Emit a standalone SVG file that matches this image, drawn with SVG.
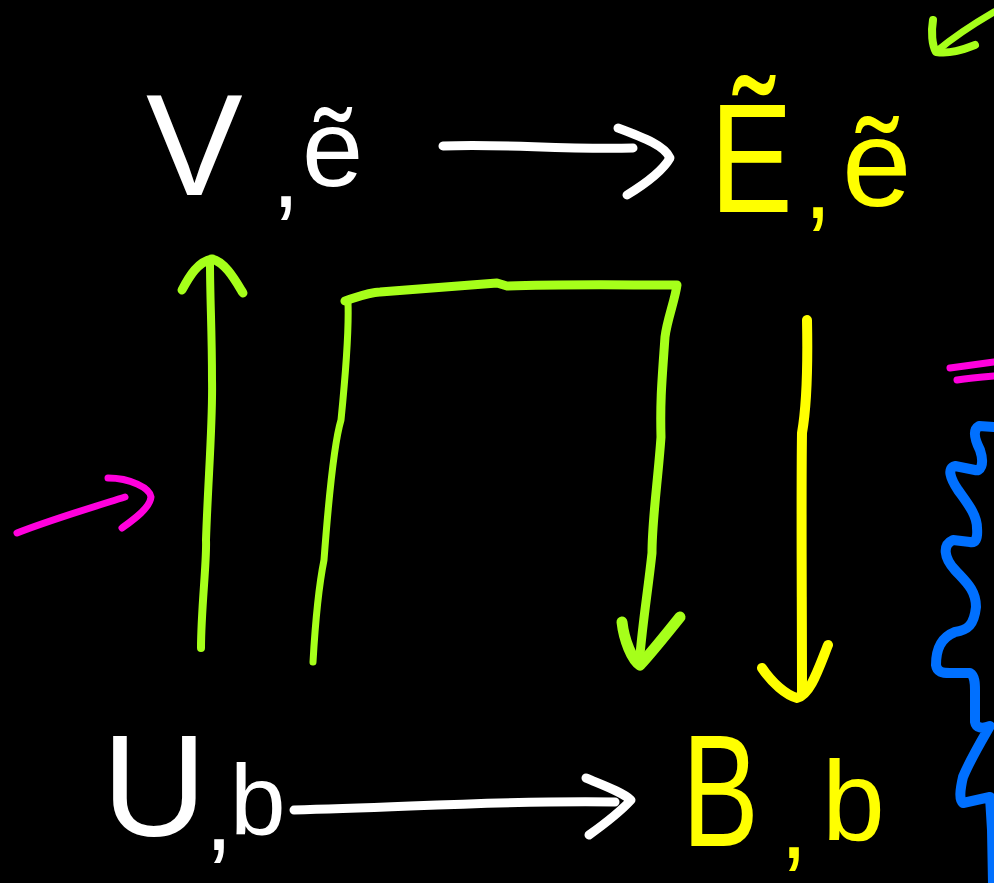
<svg xmlns="http://www.w3.org/2000/svg" width="994" height="883" viewBox="0 0 994 883">
<style>
.lbl{font-family:"Liberation Sans","DejaVu Sans",sans-serif;}
.w{fill:#ffffff;}
.y{fill:#ffff00;}
.s{fill:none;stroke-linecap:round;stroke-linejoin:round;}
.sw{stroke:#ffffff;stroke-width:9;}
.sg{stroke:#a6ff1a;}
.sy{stroke:#ffff00;stroke-width:10;}
.sp{stroke:#ff00dd;stroke-width:7;}
.sb{stroke:#0070ff;stroke-width:10;}
</style>
<rect x="0" y="0" width="994" height="883" fill="#000000"/>
<g id="node-V">
<text class="lbl w"><tspan x="146" y="195" font-size="145">V</tspan><tspan x="272" y="207" font-size="100">,</tspan><tspan x="302" y="186" font-size="110">ẽ</tspan></text>
</g>
<g id="node-E">
<text class="lbl y" font-size="155" transform="translate(710,212) scale(0.8,1)">Ẽ</text>
<text class="lbl y"><tspan x="804" y="218" font-size="100">,</tspan><tspan x="842" y="206" font-size="125">ẽ</tspan></text>
</g>
<g id="node-U">
<text class="lbl w"><tspan x="102" y="836" font-size="145">U</tspan><tspan x="205" y="850" font-size="100">,</tspan><tspan x="230" y="835" font-size="100">b</tspan></text>
</g>
<g id="node-B">
<text class="lbl y" font-size="160" transform="translate(682,846) scale(0.72,1)">B</text>
<text class="lbl y"><tspan x="780" y="858" font-size="100">,</tspan><tspan x="822" y="840" font-size="113">b</tspan></text>
</g>
<g id="connectors">
<path class="s sw" d="M443,146 C500,143 560,150 633,148"/>
<path class="s sw" d="M618,128 C645,138 665,146 670,158 C662,172 645,184 627,195"/>
<path class="s sw" d="M294,810 C400,808 500,800 615,802"/>
<path class="s sw" d="M586,778 C605,786 622,792 631,800 C620,812 603,825 589,835"/>
<path class="s sg" stroke-width="8" d="M201,648 C201,610 207,560 206,540 C208,480 213,420 212,380 C212,330 210,300 210,262"/>
<path class="s sg" stroke-width="9" d="M182,290 C190,275 198,262 212,259 C225,262 235,280 243,293"/>
<path class="s sg" stroke-width="7" d="M313,662 C316,610 320,580 324,560 C330,480 335,440 341,420 C346,370 349,330 348,303"/>
<path class="s sg" stroke-width="9" d="M345,301 C360,296 370,292 380,292 C420,289 460,286 497,283 L507,286 C560,284 620,285 677,285 C675,300 667,320 665,337 C662,380 660,400 661,437 C658,480 652,520 652,553 C648,590 643,620 640,655"/>
<path class="s sg" stroke-width="11" d="M622,622 C624,640 632,660 640,665 C652,652 668,632 680,617"/>
<path class="s sy" d="M807,320 C808,370 806,410 802,433 C801,500 802,600 802,693"/>
<path class="s sy" d="M762,668 C772,683 786,695 797,698 C810,695 818,670 828,645"/>
<path class="s sp" stroke-width="8" d="M17,533 C50,520 90,508 125,497"/>
<path class="s sp" stroke-width="8" d="M108,478 C130,478 150,488 151,497 C150,508 133,520 122,528"/>
<path class="s sg" stroke-width="7" d="M994,12 C970,26 950,40 937,51"/>
<path class="s sg" stroke-width="8" d="M933,20 C931,32 932,45 936,52 C950,54 962,50 975,45"/>
<path class="s sp" stroke-width="5" d="M950,368 C965,366 980,364 994,362"/>
<path class="s sp" stroke-width="5" d="M957,380 C970,378 982,377 994,376"/>
<path class="s sb" d="M994,427 L979,426 C972,430 975,440 980,450 C985,465 980,472 975,470 L955,466 C947,468 950,478 958,490 C968,504 977,515 977,528 C978,540 975,543 970,542 L953,540 C942,545 944,558 955,570 C966,582 976,590 976,607 C974,625 968,630 955,632 C940,638 936,650 936,665 C937,672 942,673 950,673 L970,673 C975,676 975,684 975,690 L975,722 C976,728 982,729 990,726 C982,740 970,760 963,777 C960,790 959,800 963,803 L990,797 L992,830 L993,883"/>
</g>
</svg>
